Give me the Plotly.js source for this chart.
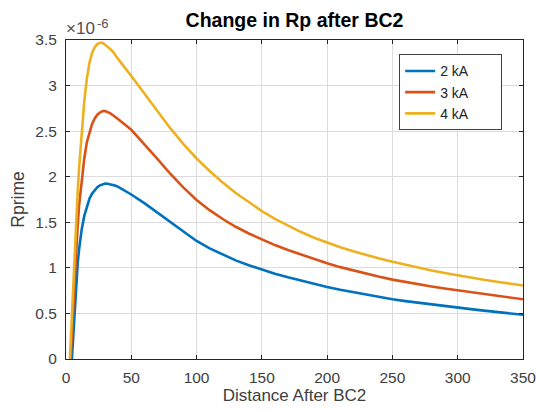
<!DOCTYPE html>
<html>
<head>
<meta charset="utf-8">
<script src="https://cdn.plot.ly/plotly-3.0.1.min.js"></script>
<style>html,body{margin:0;padding:0;background:#fff;}#chart{width:537px;height:412px;}</style>
</head>
<body>
<div id="chart"></div>
<script>
// Values; y in units of 1e-6
const x2kA = [4.5,5,6,7,8,9,10,12,14,16,18,20,22,24,26,28,30,32,34,36,38,40,50,60,70,80,90,100,110,120,130,140,150,160,170,180,190,200,210,220,230,240,250,260,270,280,290,300,310,320,330,340,350];
const y2kA = [0,0.12,0.46,0.70,0.90,1.06,1.20,1.42,1.57,1.68,1.76,1.815,1.855,1.885,1.905,1.918,1.925,1.923,1.917,1.91,1.90,1.888,1.805,1.71,1.605,1.495,1.39,1.295,1.213,1.143,1.082,1.028,0.98,0.936,0.896,0.859,0.824,0.79,0.759,0.731,0.705,0.68,0.655,0.635,0.616,0.598,0.581,0.563,0.547,0.531,0.515,0.50,0.485];
const x3kA = [3.5,5,6,7,8,9,10,12,14,16,18,20,22,24,26,28,30,32,34,36,38,40,50,60,70,80,90,100,110,120,130,140,150,160,170,180,190,200,210,220,230,240,250,260,270,280,290,300,310,320,330,340,350];
const y3kA = [0,0.45,0.74,1.0,1.25,1.48,1.68,1.96,2.2,2.38,2.49,2.58,2.64,2.68,2.705,2.72,2.72,2.71,2.695,2.675,2.655,2.63,2.515,2.36,2.195,2.03,1.88,1.745,1.633,1.536,1.451,1.377,1.31,1.25,1.195,1.144,1.096,1.05,1.008,0.97,0.935,0.902,0.871,0.843,0.818,0.795,0.773,0.752,0.732,0.712,0.693,0.674,0.655];
const x4kA = [3,4,5,6,7,8,9,10,12,14,16,18,20,22,24,26,28,30,32,34,36,38,40,50,60,70,80,90,100,110,120,130,140,150,160,170,180,190,200,210,220,230,240,250,260,270,280,290,300,310,320,330,340,350];
const y4kA = [0,0.33,0.66,0.98,1.29,1.58,1.85,2.09,2.50,2.83,3.08,3.25,3.36,3.42,3.455,3.47,3.47,3.45,3.43,3.40,3.37,3.33,3.29,3.105,2.91,2.715,2.53,2.358,2.20,2.062,1.936,1.821,1.717,1.623,1.538,1.462,1.393,1.331,1.275,1.226,1.181,1.14,1.102,1.067,1.033,1.001,0.971,0.943,0.917,0.893,0.87,0.848,0.827,0.807];
const seriesNames = ['2 kA','3 kA','4 kA'];
const seriesColors = ['#0072BD','#D95319','#EDB120'];
const yTicks = [0,0.5,1,1.5,2,2.5,3,3.5];
const xTicks = [0,50,100,150,200,250,300,350];
const expBase = '×10', expPower = '-6';

const pad = '\u00a0\u00a0\u00a0\u00a0\u00a0\u00a0\u00a0';
const xs = [x2kA,x3kA,x4kA], ys = [y2kA,y3kA,y4kA];
const traces = xs.map((xv,i)=>({
  x: xv, y: ys[i], type:'scatter', mode:'lines', name: seriesNames[i] + pad,
  line:{color: seriesColors[i], width:2.6, shape:'linear'}
}));

const axColor = '#262626';
const ff = '"Liberation Sans", Arial, Helvetica, sans-serif';
const layout = {
  width:537, height:412,
  margin:{l:66, r:14, t:40, b:53},
  paper_bgcolor:'#fff', plot_bgcolor:'#fff',
  font:{family:ff, size:15, color:axColor},
  showlegend:true,
  title:{text:'<b>Change in Rp after BC2</b>', x:0.5, xref:'paper', y:1-20/412, yref:'container', yanchor:'middle',
         font:{family:ff, size:19.5, color:'#000'}},
  xaxis:{range:[0,350], tickvals:xTicks, ticktext:xTicks.map(String), showgrid:true, gridcolor:'#dcdcdc', gridwidth:1,
         zeroline:false, showline:true, linecolor:axColor, linewidth:1, mirror:'ticks', ticks:'inside', ticklen:4,
         tickcolor:axColor, tickfont:{family:ff, size:15.5, color:'#404040'}, ticklabelstandoff:4,
         title:{text:'Distance After BC2', font:{family:ff, size:17, color:'#404040'}, standoff:4}},
  yaxis:{range:[0,3.5], tickvals:yTicks, ticktext:yTicks.map(String), showgrid:true, gridcolor:'#dcdcdc', gridwidth:1,
         zeroline:false, showline:true, linecolor:axColor, linewidth:1, mirror:'ticks', ticks:'inside', ticklen:4,
         tickcolor:axColor, tickfont:{family:ff, size:15.5, color:'#404040'}, ticklabelstandoff:5,
         title:{text:'Rprime', font:{family:ff, size:17.5, color:'#404040'}, standoff:6}},
  legend:{x:0.729, y:0.955, xanchor:'left', yanchor:'top', bordercolor:'#404040', borderwidth:1, bgcolor:'#fff',
          font:{family:ff, size:14, color:'#222'}, tracegroupgap:0},
  annotations:[
    {text:expBase, xref:'paper', yref:'paper', x:0, y:1, xanchor:'left', yanchor:'bottom',
     xshift:-1, yshift:1, showarrow:false, borderpad:0, font:{family:ff, size:17, color:'#505050'}},
    {text:expPower, xref:'paper', yref:'paper', x:0, y:1, xanchor:'left', yanchor:'bottom',
     xshift:30, yshift:8, showarrow:false, borderpad:0, font:{family:ff, size:13, color:'#505050'}}
  ]
};
Plotly.newPlot('chart', traces, layout, {displayModeBar:false, staticPlot:true});
</script>
</body>
</html>
